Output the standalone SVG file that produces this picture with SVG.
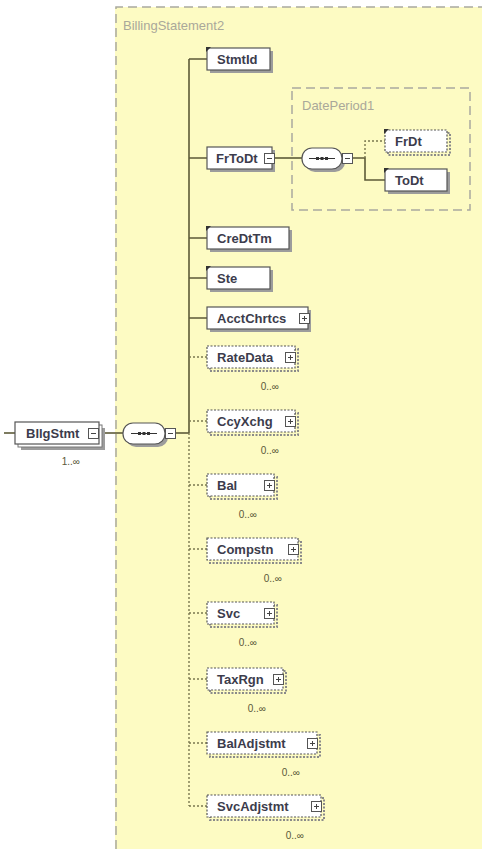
<svg xmlns="http://www.w3.org/2000/svg" xmlns:xlink="http://www.w3.org/1999/xlink" width="482" height="854" viewBox="0 0 482 854">
<style>
.bg{fill:#fdfbc3}
.frame{fill:none;stroke:#a9a9a0;stroke-width:1.5;stroke-dasharray:9,5}
.title{font-family:"Liberation Sans",Arial,sans-serif;font-size:13px;fill:#aaa89a}
.box{fill:#ffffff;stroke:#555555;stroke-width:1.2}
.obox{fill:#ffffff;stroke:#555555;stroke-width:1.2;stroke-dasharray:2,1.5}
.sh{fill:#9c9c9c}
.osh{fill:none;stroke:#8a8a8a;stroke-width:2;stroke-dasharray:2,1.5}
.lbl{font-family:"Liberation Sans",Arial,sans-serif;font-size:13px;font-weight:bold;fill:#3c3c4c}
.card{font-family:"Liberation Sans",Arial,sans-serif;font-size:10px;fill:#5a5838;text-anchor:end}
.ln{fill:none;stroke:#5c5a38;stroke-width:1.6}
.dl{fill:none;stroke:#7a7850;stroke-width:1.4;stroke-dasharray:2,2}
.pill{fill:#ffffff;stroke:#555555;stroke-width:1.2}
</style>
<defs>
<symbol id="plus" viewBox="0 0 11 11"><rect x="0.5" y="0.5" width="10" height="10" fill="#ffffff" stroke="#555555"/><path d="M3 5.5H8M5.5 3V8" stroke="#444444" stroke-width="1"/></symbol>
<symbol id="minus" viewBox="0 0 11 11"><rect x="0.5" y="0.5" width="10" height="10" fill="#ffffff" stroke="#555555"/><path d="M3 5.5H8" stroke="#444444" stroke-width="1"/></symbol>
<symbol id="mk" viewBox="0 0 5 5"><polygon points="0,0 5,0 0,5" fill="#333333"/></symbol>
<symbol id="seq" viewBox="0 0 26 6"><path d="M0 3H26" stroke="#333333" stroke-width="1"/><rect x="7" y="1.5" width="3" height="3" fill="#333333"/><rect x="11.5" y="1.5" width="3" height="3" fill="#333333"/><rect x="16" y="1.5" width="3" height="3" fill="#333333"/></symbol>
</defs>

<g id="BillingStatement2">
<rect class="bg" x="115" y="7" width="367" height="842"/>
<path class="frame" d="M116 849V7H482"/>
<text class="title" x="123" y="30">BillingStatement2</text>
</g>

<g id="DatePeriod1">
<rect class="frame" x="292" y="88" width="178" height="122" stroke-width="1.2"/>
<text class="title" x="302" y="110">DatePeriod1</text>
</g>

<g id="connectors">
<path class="ln" d="M4 433H15"/>
<path class="ln" d="M99 433H123"/>
<path class="ln" d="M176 433H189"/>
<path class="ln" d="M189 59V433"/>
<path class="ln" d="M189 59H207M189 158H207M189 238H207M189 278H207M189 318H207"/>
<path class="dl" d="M189 433V806"/>
<path class="dl" d="M189 357H207M189 421H207M189 485H207M189 549H207M189 613H207M189 679H207M189 743H207M189 806H207"/>
<path class="ln" d="M275 158H302"/>
<path class="ln" d="M353 158H365V180H385"/>
<path class="dl" d="M365 158V141H385"/>
</g>

<g id="BllgStmt">
<rect class="sh" x="21" y="428" width="84" height="22"/>
<rect fill="#ffffff" stroke="#777777" x="18" y="425" width="84" height="22"/>
<rect class="box" x="15" y="422" width="84" height="22"/>
<text class="lbl" x="26" y="437.5">BllgStmt</text>
<use xlink:href="#minus" x="88" y="428" width="11" height="11"/>
<text class="card" x="80" y="465">1..∞</text>
</g>

<g id="seq-main">
<rect class="sh" x="126" y="426" width="42" height="21" rx="10"/>
<rect class="pill" x="123" y="423" width="42" height="21" rx="10"/>
<use xlink:href="#seq" x="131" y="430.5" width="26" height="6"/>
<use xlink:href="#minus" x="165" y="428" width="11" height="11"/>
</g>

<g id="StmtId">
<rect class="sh" x="210" y="51" width="63" height="22"/>
<rect class="box" x="207" y="48" width="63" height="22"/>
<use xlink:href="#mk" x="206" y="47" width="5" height="5"/>
<text class="lbl" x="217" y="63.5">StmtId</text>
</g>

<g id="FrToDt">
<rect class="sh" x="210" y="150" width="65" height="22"/>
<rect class="box" x="207" y="147" width="65" height="22"/>
<text class="lbl" x="216" y="162.5">FrToDt</text>
<use xlink:href="#minus" x="264" y="153" width="11" height="11"/>
</g>

<g id="seq-DatePeriod1">
<rect class="sh" x="305" y="151" width="40" height="21" rx="10"/>
<rect class="pill" x="302" y="148" width="40" height="21" rx="10"/>
<use xlink:href="#seq" x="309" y="155.5" width="26" height="6"/>
<use xlink:href="#minus" x="342" y="153" width="11" height="11"/>
</g>

<g id="FrDt">
<rect class="osh" x="388" y="133" width="62" height="22"/>
<rect class="obox" x="385" y="130" width="62" height="22"/>
<use xlink:href="#mk" x="384" y="129" width="5" height="5"/>
<text class="lbl" x="395" y="145.5">FrDt</text>
</g>

<g id="ToDt">
<rect class="sh" x="388" y="172" width="62" height="22"/>
<rect class="box" x="385" y="169" width="62" height="22"/>
<use xlink:href="#mk" x="384" y="168" width="5" height="5"/>
<text class="lbl" x="395" y="184.5">ToDt</text>
</g>

<g id="CreDtTm">
<rect class="sh" x="210" y="230" width="82" height="22"/>
<rect class="box" x="207" y="227" width="82" height="22"/>
<use xlink:href="#mk" x="206" y="226" width="5" height="5"/>
<text class="lbl" x="217" y="242.5">CreDtTm</text>
</g>

<g id="Ste">
<rect class="sh" x="210" y="270" width="63" height="22"/>
<rect class="box" x="207" y="267" width="63" height="22"/>
<use xlink:href="#mk" x="206" y="266" width="5" height="5"/>
<text class="lbl" x="217" y="282.5">Ste</text>
</g>

<g id="AcctChrtcs">
<rect class="sh" x="210" y="310" width="101" height="22"/>
<rect class="box" x="207" y="307" width="101" height="22"/>
<text class="lbl" x="217" y="322.5">AcctChrtcs</text>
<use xlink:href="#plus" x="299" y="313" width="11" height="11"/>
</g>

<g id="RateData">
<rect class="osh" x="210" y="349" width="88" height="22"/>
<rect class="obox" x="207" y="346" width="88" height="22"/>
<text class="lbl" x="217" y="361.5">RateData</text>
<use xlink:href="#plus" x="285" y="352" width="11" height="11"/>
<text class="card" x="279" y="390">0..∞</text>
</g>

<g id="CcyXchg">
<rect class="osh" x="210" y="413" width="88" height="22"/>
<rect class="obox" x="207" y="410" width="88" height="22"/>
<text class="lbl" x="217" y="425.5">CcyXchg</text>
<use xlink:href="#plus" x="285" y="416" width="11" height="11"/>
<text class="card" x="279" y="454">0..∞</text>
</g>

<g id="Bal">
<rect class="osh" x="210" y="477" width="67" height="22"/>
<rect class="obox" x="207" y="474" width="67" height="22"/>
<text class="lbl" x="217" y="489.5">Bal</text>
<use xlink:href="#plus" x="264" y="480" width="11" height="11"/>
<text class="card" x="257" y="518">0..∞</text>
</g>

<g id="Compstn">
<rect class="osh" x="210" y="541" width="91" height="22"/>
<rect class="obox" x="207" y="538" width="91" height="22"/>
<text class="lbl" x="217" y="553.5">Compstn</text>
<use xlink:href="#plus" x="288" y="544" width="11" height="11"/>
<text class="card" x="282" y="582">0..∞</text>
</g>

<g id="Svc">
<rect class="osh" x="210" y="605" width="67" height="22"/>
<rect class="obox" x="207" y="602" width="67" height="22"/>
<text class="lbl" x="217" y="617.5">Svc</text>
<use xlink:href="#plus" x="264" y="608" width="11" height="11"/>
<text class="card" x="257" y="646">0..∞</text>
</g>

<g id="TaxRgn">
<rect class="osh" x="210" y="671" width="76" height="22"/>
<rect class="obox" x="207" y="668" width="76" height="22"/>
<text class="lbl" x="217" y="683.5">TaxRgn</text>
<use xlink:href="#plus" x="273" y="674" width="11" height="11"/>
<text class="card" x="266" y="712">0..∞</text>
</g>

<g id="BalAdjstmt">
<rect class="osh" x="210" y="735" width="110" height="22"/>
<rect class="obox" x="207" y="732" width="110" height="22"/>
<text class="lbl" x="217" y="747.5">BalAdjstmt</text>
<use xlink:href="#plus" x="307" y="738" width="11" height="11"/>
<text class="card" x="300" y="776">0..∞</text>
</g>

<g id="SvcAdjstmt">
<rect class="osh" x="210" y="798" width="114" height="22"/>
<rect class="obox" x="207" y="795" width="114" height="22"/>
<text class="lbl" x="217" y="810.5">SvcAdjstmt</text>
<use xlink:href="#plus" x="311" y="801" width="11" height="11"/>
<text class="card" x="304" y="839">0..∞</text>
</g>
</svg>
